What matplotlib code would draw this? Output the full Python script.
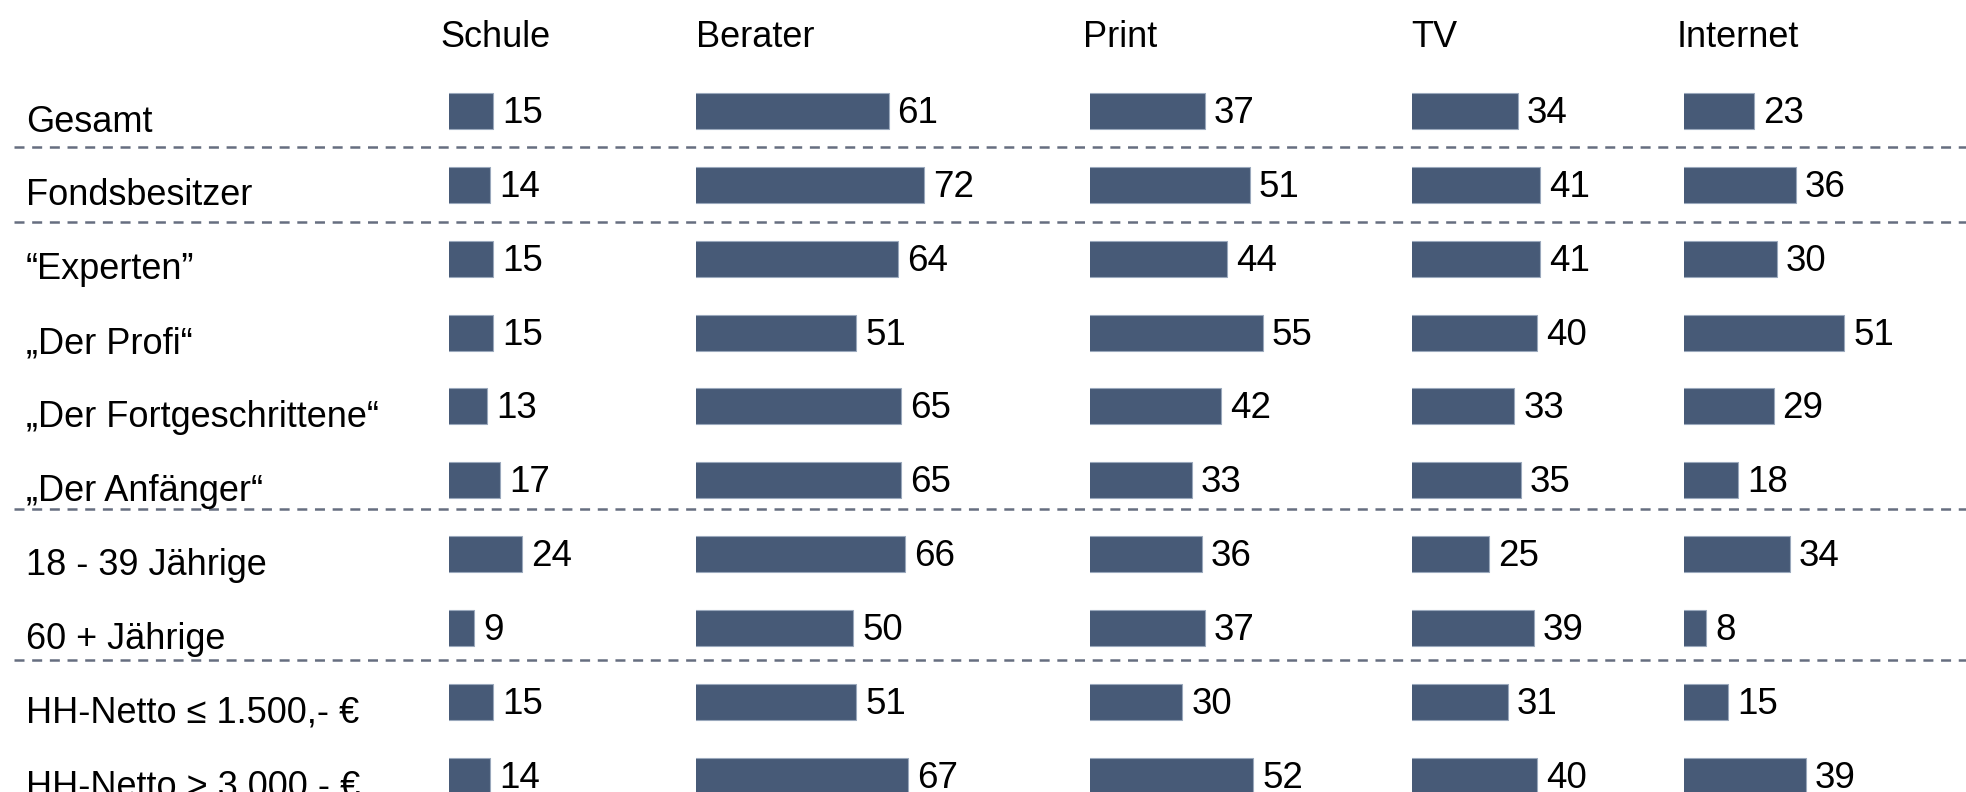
import matplotlib
matplotlib.use("Agg")
import matplotlib.pyplot as plt

plt.rcParams['font.family'] = ['Liberation Sans', 'DejaVu Sans']

# ---------------- data ----------------
row_labels = ["Gesamt", "Fondsbesitzer", "\u201cExperten\u201d", "\u201eDer Profi\u201c",
              "\u201eDer Fortgeschrittene\u201c", "\u201eDer Anf\u00e4nger\u201c",
              "18 - 39 J\u00e4hrige", "60 + J\u00e4hrige",
              "HH-Netto \u2264 1.500,- \u20ac", "HH-Netto > 3.000,- \u20ac"]
columns = ["Schule", "Berater", "Print", "TV", "Internet"]
schule = [15, 14, 15, 15, 13, 17, 24, 9, 15, 14]
berater = [61, 72, 64, 51, 65, 65, 66, 50, 51, 67]
print_ = [37, 51, 44, 55, 42, 33, 36, 37, 30, 52]
tv = [34, 41, 41, 40, 33, 35, 25, 39, 31, 40]
internet = [23, 36, 30, 51, 29, 18, 34, 8, 15, 39]
series = [schule, berater, print_, tv, internet]

# ---------------- layout ----------------
W, H, DPI = 1966, 792, 100
ROW0, ROWSTEP = 111.0, 73.85           # px
Y_TOP = -ROW0 / ROWSTEP
Y_BOT = (H - ROW0) / ROWSTEP
PX_PER_UNIT = 3.22
X0 = 1.2
bar_left_px = [449, 696, 1089.5, 1412, 1684]
header_x_px = [440, 696, 1083, 1411, 1677]
sep_rows = [0.483, 1.499, 5.393, 7.434]

BAR_COLOR = "#475A77"
EDGE_COLOR = "#9AA8BC"
DASH_COLOR = "#666E80"
FS = 26
FS_VAL = 26.5

fig = plt.figure(figsize=(W / DPI, H / DPI), dpi=DPI)
fig.patch.set_facecolor("white")

bg = fig.add_axes([0, 0, 1, 1])
bg.set_xlim(0, W)
bg.set_ylim(Y_BOT, Y_TOP)
bg.axis("off")

for i, lab in enumerate(row_labels):
    bg.text(26, i + 20.6 / ROWSTEP, lab, fontsize=FS, va="baseline", ha="left", color="black")

for hx, name in zip(header_x_px, columns):
    bg.text(hx, (46.7 - ROW0) / ROWSTEP, name, fontsize=FS, va="baseline", ha="left", color="black")

for sy in sep_rows:
    bg.plot([14, W], [sy, sy], color=DASH_COLOR, lw=1.8, linestyle=(0, (4.0, 3.07)),
            solid_capstyle="butt", dash_capstyle="butt")

rows = list(range(len(row_labels)))
for c, vals in enumerate(series):
    L = bar_left_px[c]
    R = bar_left_px[c + 1] if c + 1 < len(bar_left_px) else W
    ax = fig.add_axes([L / W, 0, (R - L) / W, 1])
    ax.set_xlim(X0, X0 + (R - L) / PX_PER_UNIT)
    ax.set_ylim(Y_BOT, Y_TOP)
    ax.axis("off")
    ax.patch.set_alpha(0)
    ax.barh(rows, vals, height=36 / ROWSTEP, left=0, color=BAR_COLOR,
            edgecolor=EDGE_COLOR, linewidth=0.8)
    for r, v in zip(rows, vals):
        ax.annotate(str(v), xy=(v, r + 12 / ROWSTEP), xytext=(6.5, 0),
                    textcoords="offset points", fontsize=FS_VAL, va="baseline",
                    ha="left", color="black", annotation_clip=False)

fig.savefig("out.png", dpi=DPI, facecolor="white")
